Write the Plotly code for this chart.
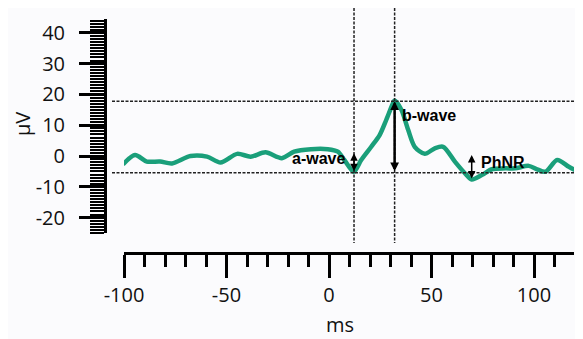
import plotly.graph_objects as go

# ERG waveform (time in ms, amplitude in µV)
time_ms = [-100.5, -94.6, -88.9, -82.4, -76.6, -67.6, -59.5, -52.9, -44.8, -38.2,
           -31.0, -23.0, -17.0, -8.8, -0.6, 4.3, 7.5, 12.1, 15.7, 20.6,
           24.7, 27.9, 31.2, 32.0, 35.3, 38.6, 41.8, 46.7, 51.6, 55.7,
           61.4, 66.3, 69.6, 74.5, 79.4, 85.9, 90.8, 97.4, 101.5, 105.6,
           111.3, 117.0, 121.5]
amp_uv = [-2.7, 0.3, -1.8, -1.8, -2.4, 0.0, -0.2, -2.1, 0.7, -0.2,
          1.2, -0.7, 1.4, 2.2, 2.2, 1.4, -1.3, -5.1, -1.3, 3.0,
          6.8, 11.7, 17.1, 18.0, 15.0, 8.5, 3.0, 0.7, 2.5, 3.0,
          -1.8, -5.6, -7.6, -6.2, -4.3, -4.0, -4.0, -3.2, -4.3, -5.1,
          -1.3, -3.5, -5.1]

# Marker values
a_wave_t = 12.2
b_wave_t = 32.0
phnr_t = 69.6
a_trough = -5.4
b_peak = 17.8
a_base = 0.9
phnr_top = 0.3
phnr_trough = -7.8

x_ticks = [-100, -50, 0, 50, 100]
y_ticks = [-20, -10, 0, 10, 20, 30, 40]

OFF = 8  # default page body margin
W, H = 583 - OFF, 339 - OFF
def px(x):
    return (x - OFF) / W
def py(y):
    return 1 - (y - OFF) / H

fig = go.Figure()
fig.add_trace(go.Scatter(x=time_ms, y=amp_uv, mode="lines",
                         line=dict(color="#1a9f7a", width=4.5, shape="spline", smoothing=0.8),
                         hoverinfo="skip", showlegend=False))

dot = dict(color="#222222", width=1.5, dash="3px,1.5px")
shapes = [
    dict(type="line", xref="x", yref="paper", x0=a_wave_t, x1=a_wave_t, y0=py(8), y1=py(243), line=dot),
    dict(type="line", xref="x", yref="paper", x0=b_wave_t, x1=b_wave_t, y0=py(8), y1=py(243), line=dot),
    dict(type="line", xref="paper", yref="y", x0=px(112), x1=1, y0=b_peak, y1=b_peak, line=dot),
    dict(type="line", xref="paper", yref="y", x0=px(112), x1=1, y0=a_trough, y1=a_trough, line=dot),
]

arrow_common = dict(showarrow=True, text="", axref="x", ayref="y", xref="x", yref="y",
                    arrowside="end+start", arrowhead=2, arrowcolor="black",
                    standoff=0, startstandoff=0)
annotations = [
    dict(x=a_wave_t, y=a_base, ax=a_wave_t, ay=a_trough, arrowwidth=1.5, arrowsize=1.0, **arrow_common),
    dict(x=b_wave_t, y=b_peak, ax=b_wave_t, ay=a_trough, arrowwidth=2.5, arrowsize=0.7, **arrow_common),
    dict(x=phnr_t, y=phnr_top, ax=phnr_t, ay=phnr_trough, arrowwidth=1.5, arrowsize=1.0, **arrow_common),
]
lab_font = dict(family="Liberation Sans, Arial", size=16, color="black")
annotations += [
    dict(x=8.8, y=-0.65, xref="x", yref="y", text="<b>a-wave</b>", showarrow=False,
         xanchor="right", yanchor="middle", font=lab_font),
    dict(x=34.8, y=13.3, xref="x", yref="y", text="<b>b-wave</b>", showarrow=False,
         xanchor="left", yanchor="middle", font=lab_font),
    dict(x=73.0, y=-1.95, xref="x", yref="y", text="<b>PhNR</b>", showarrow=False,
         xanchor="left", yanchor="middle", font=lab_font),
    dict(x=px(23), y=py(124), xref="paper", yref="paper", text="µV", showarrow=False,
         xanchor="center", yanchor="middle",
         textangle=-90, font=dict(family="Open Sans", size=20, color="#111")),
    dict(x=px(340), y=py(324), xref="paper", yref="paper", text="ms", showarrow=False,
         xanchor="center", yanchor="middle",
         font=dict(family="Open Sans", size=20, color="#111")),
]

tick_font = dict(family="Open Sans", size=20, color="#111")
fig.update_layout(
    width=W, height=H, margin=dict(l=0, r=0, t=0, b=0, autoexpand=False),
    paper_bgcolor="#fbfbfd", plot_bgcolor="#fbfbfd",
    shapes=shapes, annotations=annotations,
    xaxis=dict(domain=[px(124), px(574)], range=[-100, 119.5], anchor="free", position=py(253),
               automargin=False,
               showgrid=False, zeroline=False, showline=True, linewidth=3, linecolor="black",
               ticks="outside", ticklen=23, tickwidth=3, tickcolor="black",
               tickvals=x_ticks, ticktext=[str(v) for v in x_ticks], tickfont=tick_font,
               minor=dict(dtick=10, tick0=0, ticks="outside", ticklen=12, tickwidth=3,
                          tickcolor="black", showgrid=False)),
    yaxis=dict(domain=[py(233), py(19)], range=[-25.0, 44.5], anchor="free", position=px(105),
               automargin=False,
               showgrid=False, zeroline=False, showline=True, linewidth=3, linecolor="black",
               ticks="outside", ticklen=25, tickwidth=3, tickcolor="black",
               tickvals=y_ticks, ticktext=[str(v) for v in y_ticks], tickfont=tick_font,
               ticklabelstandoff=10,
               minor=dict(dtick=1, tick0=0, ticks="outside", ticklen=14, tickwidth=2,
                          tickcolor="black", showgrid=False)),
)
fig.write_html("out.html")
